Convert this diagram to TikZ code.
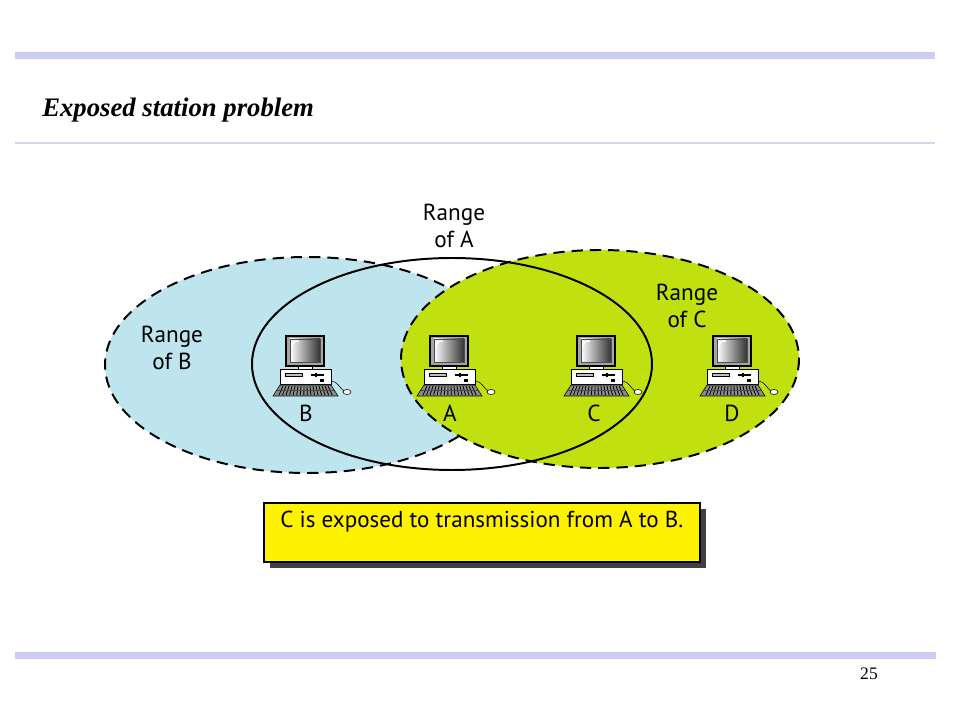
\documentclass[tikz,border=0pt]{standalone}
\usepackage{fontspec}
\setmainfont{Liberation Serif}
\newfontfamily\lblfont{PT Sans}
\usetikzlibrary{calc,positioning,shadows}
\definecolor{barblue}{RGB}{204,204,245}
\definecolor{linelav}{RGB}{214,210,240}
\definecolor{rangeB}{RGB}{190,228,238}
\definecolor{rangeC}{RGB}{192,224,16}
\begin{document}
\begin{tikzpicture}[x=0.025cm,y=-0.025cm,>=stealth,
  rng/.style = {dash pattern=on 8pt off 5pt, line width=1.4pt},
  lbl/.style = {font=\lblfont\fontsize{16.5}{19}\selectfont, align=center, inner sep=0pt},
  msgbox/.style = {draw, line width=1.2pt, fill=yellow, anchor=north west, inner xsep=0pt, inner ysep=0pt,
    minimum width=310pt, text height=17.8pt, text depth=24.2pt,
    font=\lblfont\fontsize{16.4}{19}\selectfont,
    drop shadow={shadow xshift=4.3pt, shadow yshift=-4.3pt, fill=black!75, opacity=1}},
  pc/.pic = {
    \draw[line width=1.2pt, fill=black!35] (-19,1) rectangle (19,31);
    \shade[left color=white, right color=black!80, draw=black!70] (-15,4) rectangle (15,27);
    \draw[white, line width=1pt] (-13,11) .. controls (-13,7) and (-11,6) .. (-6,6);
    \draw[fill=white] (-7,31) rectangle (7,34);
    \draw[fill=white] (-25,34) rectangle (26,49);
    \draw[fill=black!25] (-20,38.5) rectangle (-3,41.5);
    \draw[line width=1pt] (6,40) -- (19,40) (11,38) -- (11,42);
    \fill (15,44) rectangle (18.5,47);
    \draw[fill=black!45] (-25,50) -- (26,50) -- (33,61) -- (-32,61) -- cycle;
    \foreach \k in {-22,-19,...,23} \draw[line width=0.6pt] (\k,51) -- (\k*1.18,60);
    \draw[black!70, line width=0.5pt] (-28,55.5) -- (29,55.5);
    \draw (26,46) .. controls (33,46) and (35,54) .. (39,56);
    \draw[fill=white] (42,57) ellipse [x radius=4, y radius=2.5];
  }]
\useasboundingbox (0,0) rectangle (960,720);
% header and footer
\fill[barblue] (15,52) rectangle (935,59);
\draw[linelav, line width=1.4pt] (15,143) -- (935,143);
\fill[barblue] (15,652) rectangle (936,659);
\node[anchor=base west, inner sep=0pt, font=\fontsize{19}{22}\selectfont\bfseries\itshape] (title) at (42,117) {Exposed station problem};
\node[anchor=base, inner sep=0pt, font=\fontsize{12.5}{14}\selectfont] (page) at (869,679) {25};
% ranges
\fill[rangeB] (307,365) ellipse [x radius=202, y radius=108];
\draw[rng] (307,365) ellipse [x radius=202, y radius=108];
\filldraw[rng, fill=rangeC] (600,359) ellipse [x radius=199, y radius=109];
\draw[line width=1.4pt] (452,364) ellipse [x radius=200, y radius=106];
% stations
\pic (pcB) at (305,335) {pc};
\pic (pcA) at (449,335) {pc};
\pic (pcC) at (596,335) {pc};
\pic (pcD) at (732,335) {pc};
\node[lbl] (labB) at (306,413) {B};
\node[lbl] (labA) at (450,413) {A};
\node[lbl] (labC) at (594,413) {C};
\node[lbl] (labD) at (732,413) {D};
\node[lbl] (rngB) at (172,348) {Range\\of B};
\node[lbl] (rngA) at (454,226) {Range\\of A};
\node[lbl] (rngC) at (687,306) {Range\\of C};
% message
\node[msgbox] (msg) at (263,502) {C is exposed to transmission from A to B.};
\end{tikzpicture}
\end{document}
